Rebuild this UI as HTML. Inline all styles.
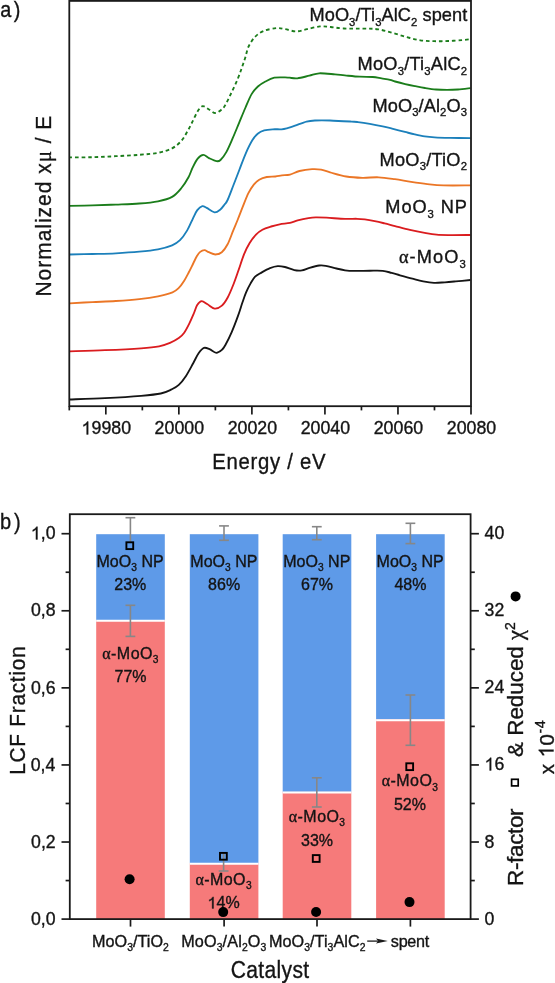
<!DOCTYPE html>
<html><head><meta charset="utf-8"><style>
html,body{margin:0;padding:0;background:#fff;}
body{width:555px;height:983px;overflow:hidden;}
svg{display:block;will-change:transform;}
text{font-family:"Liberation Sans", sans-serif;fill:#141414;stroke:#141414;stroke-width:0.35px;}
.one path{fill:#141414;stroke:#141414;stroke-width:0.35px;vector-effect:non-scaling-stroke;}
</style></head><body>
<svg width="555" height="983" viewBox="0 0 555 983">
<rect x="0" y="0" width="555" height="983" fill="#fff"/>
<path d="M69.50,399.50 C75.42,399.27 93.07,398.72 105.00,398.10 C116.93,397.48 131.80,396.57 141.10,395.80 C150.40,395.03 155.72,394.57 160.80,393.50 C165.88,392.43 168.60,390.83 171.60,389.40 C174.60,387.97 176.40,387.15 178.80,384.90 C181.20,382.65 183.60,379.52 186.00,375.90 C188.40,372.28 191.10,366.97 193.20,363.20 C195.30,359.43 196.80,355.85 198.60,353.30 C200.40,350.75 202.18,348.58 204.00,347.90 C205.82,347.22 207.45,348.38 209.50,349.20 C211.55,350.02 214.22,352.72 216.30,352.80 C218.38,352.88 220.48,351.00 222.00,349.70 C223.52,348.40 223.78,347.93 225.40,345.00 C227.02,342.07 229.60,336.95 231.70,332.10 C233.80,327.25 236.20,320.87 238.00,315.90 C239.80,310.93 241.15,306.22 242.50,302.30 C243.85,298.38 244.75,295.55 246.10,292.40 C247.45,289.25 249.10,286.02 250.60,283.40 C252.10,280.78 253.30,278.50 255.10,276.70 C256.90,274.90 258.92,274.03 261.40,272.60 C263.88,271.17 267.28,269.18 270.00,268.10 C272.72,267.02 275.22,266.28 277.70,266.10 C280.18,265.92 282.13,266.33 284.90,267.00 C287.67,267.67 291.47,269.53 294.30,270.10 C297.13,270.67 299.37,270.78 301.90,270.40 C304.43,270.02 306.62,268.62 309.50,267.80 C312.38,266.98 316.50,265.83 319.20,265.50 C321.90,265.17 322.82,265.30 325.70,265.80 C328.58,266.30 333.28,267.75 336.50,268.50 C339.72,269.25 341.93,269.90 345.00,270.30 C348.07,270.70 350.77,270.83 354.90,270.90 C359.03,270.97 365.17,270.72 369.80,270.70 C374.43,270.68 379.07,270.43 382.70,270.80 C386.33,271.17 388.72,272.15 391.60,272.90 C394.48,273.65 396.53,274.33 400.00,275.30 C403.47,276.27 408.53,277.68 412.40,278.70 C416.27,279.72 419.60,280.70 423.20,281.40 C426.80,282.10 430.38,282.75 434.00,282.90 C437.62,283.05 441.28,282.55 444.90,282.30 C448.52,282.05 451.43,281.78 455.70,281.40 C459.97,281.02 468.03,280.23 470.50,280.00" fill="none" stroke="#151515" stroke-width="1.85"/>
<path d="M69.50,351.30 C75.42,351.12 93.07,350.70 105.00,350.20 C116.93,349.70 132.08,348.95 141.10,348.30 C150.12,347.65 154.28,347.20 159.10,346.30 C163.92,345.40 166.72,344.27 170.00,342.90 C173.28,341.53 176.43,339.80 178.80,338.10 C181.17,336.40 182.42,335.20 184.20,332.70 C185.98,330.20 187.90,326.30 189.50,323.10 C191.10,319.90 192.52,316.52 193.80,313.50 C195.08,310.48 195.88,307.07 197.20,305.00 C198.52,302.93 199.98,301.22 201.70,301.10 C203.42,300.98 205.33,303.05 207.50,304.30 C209.67,305.55 212.30,308.38 214.70,308.60 C217.10,308.82 219.73,307.45 221.90,305.60 C224.07,303.75 225.78,301.02 227.70,297.50 C229.62,293.98 231.58,289.08 233.40,284.50 C235.22,279.92 236.82,275.07 238.60,270.00 C240.38,264.93 242.28,258.57 244.10,254.10 C245.92,249.63 247.52,246.45 249.50,243.20 C251.48,239.95 253.85,236.85 256.00,234.60 C258.15,232.35 259.88,231.05 262.40,229.70 C264.92,228.35 268.22,227.40 271.10,226.50 C273.98,225.60 276.55,224.90 279.70,224.30 C282.85,223.70 287.00,223.55 290.00,222.90 C293.00,222.25 294.62,221.20 297.70,220.40 C300.78,219.60 305.50,218.60 308.50,218.10 C311.50,217.60 312.70,217.47 315.70,217.40 C318.70,217.33 321.62,217.45 326.50,217.70 C331.38,217.95 339.93,218.72 345.00,218.90 C350.07,219.08 353.60,218.72 356.90,218.80 C360.20,218.88 361.83,219.02 364.80,219.40 C367.77,219.78 371.40,220.43 374.70,221.10 C378.00,221.77 381.22,222.57 384.60,223.40 C387.98,224.23 390.78,225.02 395.00,226.10 C399.22,227.18 404.95,228.77 409.90,229.90 C414.85,231.03 420.25,232.10 424.70,232.90 C429.15,233.70 432.38,234.33 436.60,234.70 C440.82,235.07 444.35,235.05 450.00,235.10 C455.65,235.15 467.08,235.02 470.50,235.00" fill="none" stroke="#da1c1f" stroke-width="1.85"/>
<path d="M69.50,303.30 C73.32,303.10 84.68,302.48 92.40,302.10 C100.12,301.72 107.98,301.50 115.80,301.00 C123.62,300.50 132.27,299.88 139.30,299.10 C146.33,298.32 152.47,297.43 158.00,296.30 C163.53,295.17 169.03,293.70 172.50,292.30 C175.97,290.90 176.85,289.83 178.80,287.90 C180.75,285.97 182.55,283.27 184.20,280.70 C185.85,278.13 187.20,275.37 188.70,272.50 C190.20,269.63 191.85,266.20 193.20,263.50 C194.55,260.80 195.63,258.23 196.80,256.30 C197.97,254.37 198.92,252.92 200.20,251.90 C201.48,250.88 203.07,250.15 204.50,250.20 C205.93,250.25 207.00,251.48 208.80,252.20 C210.60,252.92 213.13,254.50 215.30,254.50 C217.47,254.50 219.75,253.90 221.80,252.20 C223.85,250.50 225.68,247.95 227.60,244.30 C229.52,240.65 231.63,234.35 233.30,230.30 C234.97,226.25 235.98,224.02 237.60,220.00 C239.22,215.98 241.20,210.67 243.00,206.20 C244.80,201.73 246.60,196.80 248.40,193.20 C250.20,189.60 252.00,186.85 253.80,184.60 C255.60,182.35 257.03,180.97 259.20,179.70 C261.37,178.43 264.10,177.53 266.80,177.00 C269.50,176.47 272.88,176.77 275.40,176.50 C277.92,176.23 279.47,175.72 281.90,175.40 C284.33,175.08 287.07,175.33 290.00,174.60 C292.93,173.87 295.82,171.90 299.50,171.00 C303.18,170.10 308.50,169.42 312.10,169.20 C315.70,168.98 318.10,169.17 321.10,169.70 C324.10,170.23 325.92,171.27 330.10,172.40 C334.28,173.53 340.82,175.60 346.20,176.50 C351.58,177.40 357.00,177.67 362.40,177.80 C367.80,177.93 373.18,177.07 378.60,177.30 C384.02,177.53 389.48,178.43 394.90,179.20 C400.32,179.97 405.70,181.08 411.10,181.90 C416.50,182.72 421.90,183.52 427.30,184.10 C432.70,184.68 436.30,185.18 443.50,185.40 C450.70,185.62 466.00,185.40 470.50,185.40" fill="none" stroke="#eb7626" stroke-width="1.85"/>
<path d="M69.50,254.50 C73.32,254.42 84.68,254.20 92.40,254.00 C100.12,253.80 107.98,253.68 115.80,253.30 C123.62,252.92 132.27,252.37 139.30,251.70 C146.33,251.03 152.53,250.37 158.00,249.30 C163.47,248.23 168.43,246.82 172.10,245.30 C175.77,243.78 177.48,242.68 180.00,240.20 C182.52,237.72 185.03,234.05 187.20,230.40 C189.37,226.75 191.32,221.68 193.00,218.30 C194.68,214.92 195.75,212.13 197.30,210.10 C198.85,208.07 200.73,206.47 202.30,206.10 C203.87,205.73 204.65,206.87 206.70,207.90 C208.75,208.93 212.32,212.05 214.60,212.30 C216.88,212.55 218.72,210.73 220.40,209.40 C222.08,208.07 223.50,205.87 224.70,204.30 C225.90,202.73 226.13,203.22 227.60,200.00 C229.07,196.78 231.55,190.00 233.50,185.00 C235.45,180.00 237.25,175.28 239.30,170.00 C241.35,164.72 243.63,158.25 245.80,153.30 C247.97,148.35 250.32,143.57 252.30,140.30 C254.28,137.03 255.72,135.35 257.70,133.70 C259.68,132.05 261.68,131.13 264.20,130.40 C266.72,129.67 269.92,129.48 272.80,129.30 C275.68,129.12 279.15,129.47 281.50,129.30 C283.85,129.13 284.65,128.90 286.90,128.30 C289.15,127.70 291.73,126.82 295.00,125.70 C298.27,124.58 303.15,122.47 306.50,121.60 C309.85,120.73 311.18,120.68 315.10,120.50 C319.02,120.32 323.92,120.32 330.00,120.50 C336.08,120.68 346.95,121.33 351.60,121.60 C356.25,121.87 354.87,121.72 357.90,122.10 C360.93,122.48 365.67,123.18 369.80,123.90 C373.93,124.62 379.00,125.62 382.70,126.40 C386.40,127.18 388.30,127.68 392.00,128.60 C395.70,129.52 401.10,130.93 404.90,131.90 C408.70,132.87 411.50,133.65 414.80,134.40 C418.10,135.15 421.40,135.90 424.70,136.40 C428.00,136.90 430.38,137.15 434.60,137.40 C438.82,137.65 444.02,137.78 450.00,137.90 C455.98,138.02 467.08,138.07 470.50,138.10" fill="none" stroke="#1c80bb" stroke-width="1.85"/>
<path d="M69.50,205.80 C73.32,205.73 84.68,205.60 92.40,205.40 C100.12,205.20 107.98,204.92 115.80,204.60 C123.62,204.28 132.27,204.05 139.30,203.50 C146.33,202.95 152.53,202.41 158.00,201.30 C163.47,200.19 168.20,199.08 172.10,196.86 C176.00,194.64 178.67,191.28 181.40,188.00 C184.13,184.72 186.63,180.60 188.50,177.20 C190.37,173.80 191.07,170.70 192.60,167.60 C194.13,164.50 195.92,160.72 197.70,158.60 C199.48,156.48 201.42,154.98 203.30,154.90 C205.18,154.82 206.78,157.05 209.00,158.10 C211.22,159.15 214.68,160.88 216.60,161.20 C218.52,161.52 218.88,161.52 220.50,160.00 C222.12,158.48 224.27,155.73 226.30,152.10 C228.33,148.47 230.58,143.03 232.70,138.20 C234.82,133.37 236.90,128.13 239.00,123.10 C241.10,118.07 243.20,112.83 245.30,108.00 C247.40,103.17 249.50,97.68 251.60,94.10 C253.70,90.52 255.60,88.60 257.90,86.50 C260.20,84.40 262.67,82.97 265.40,81.50 C268.13,80.03 271.03,78.38 274.30,77.70 C277.57,77.02 282.47,77.40 285.00,77.40 C287.53,77.40 287.43,77.55 289.50,77.70 C291.57,77.85 294.10,78.63 297.40,78.30 C300.70,77.97 305.67,76.53 309.30,75.70 C312.93,74.87 314.92,73.52 319.20,73.30 C323.48,73.08 330.72,74.05 335.00,74.40 C339.28,74.75 340.77,75.02 344.90,75.40 C349.03,75.78 355.17,76.43 359.80,76.70 C364.43,76.97 369.07,76.72 372.70,77.00 C376.33,77.28 378.72,77.93 381.60,78.40 C384.48,78.87 387.75,79.28 390.00,79.80 C392.25,80.32 392.57,80.78 395.10,81.50 C397.63,82.22 401.83,83.32 405.20,84.10 C408.57,84.88 412.00,85.55 415.30,86.20 C418.60,86.85 421.55,87.45 425.00,88.00 C428.45,88.55 432.33,89.18 436.00,89.50 C439.67,89.82 443.33,89.90 447.00,89.90 C450.67,89.90 454.08,89.78 458.00,89.50 C461.92,89.22 468.42,88.42 470.50,88.20" fill="none" stroke="#1b7d1b" stroke-width="1.85"/>
<path d="M69.50,157.40 C73.32,157.37 84.68,157.40 92.40,157.20 C100.12,157.00 107.98,156.60 115.80,156.20 C123.62,155.80 132.27,155.37 139.30,154.80 C146.33,154.23 152.53,153.88 158.00,152.80 C163.47,151.72 168.20,150.30 172.10,148.30 C176.00,146.30 178.82,143.68 181.40,140.80 C183.98,137.92 185.73,134.23 187.60,131.00 C189.47,127.77 190.92,124.68 192.60,121.40 C194.28,118.12 196.02,113.85 197.70,111.30 C199.38,108.75 200.82,106.40 202.70,106.10 C204.58,105.80 206.90,108.35 209.00,109.50 C211.10,110.65 213.20,113.00 215.30,113.00 C217.40,113.00 219.97,110.77 221.60,109.50 C223.23,108.23 223.47,108.18 225.10,105.40 C226.73,102.62 229.30,97.20 231.40,92.80 C233.50,88.40 235.95,83.22 237.70,79.00 C239.45,74.78 240.63,71.08 241.90,67.50 C243.17,63.92 244.18,61.00 245.30,57.50 C246.42,54.00 246.97,49.95 248.60,46.50 C250.23,43.05 252.57,39.40 255.10,36.80 C257.63,34.20 260.18,32.35 263.80,30.90 C267.42,29.45 273.20,28.38 276.80,28.10 C280.40,27.82 282.17,28.65 285.40,29.20 C288.63,29.75 292.60,31.40 296.20,31.40 C299.80,31.40 303.03,30.03 307.00,29.20 C310.97,28.37 316.03,26.77 320.00,26.40 C323.97,26.03 326.83,26.65 330.80,27.00 C334.77,27.35 338.27,28.23 343.80,28.50 C349.33,28.77 358.28,28.47 364.00,28.60 C369.72,28.73 373.40,28.60 378.10,29.30 C382.80,30.00 387.52,31.52 392.20,32.80 C396.88,34.08 401.52,35.75 406.20,37.00 C410.88,38.25 415.62,39.60 420.30,40.30 C424.98,41.00 429.62,41.08 434.30,41.20 C438.98,41.32 443.72,41.18 448.40,41.00 C453.08,40.82 458.70,40.40 462.40,40.10 C466.10,39.80 469.23,39.35 470.60,39.20" fill="none" stroke="#1b7d1b" stroke-width="1.85" stroke-dasharray="3.6 2.9" stroke-dashoffset="0.9"/>
<rect x="69.30" y="0.90" width="401.70" height="405.30" fill="none" stroke="#1a1a1a" stroke-width="1.8"/>
<line x1="69.30" y1="406.20" x2="69.30" y2="410.40" stroke="#1a1a1a" stroke-width="1.7"/>
<line x1="105.82" y1="406.20" x2="105.82" y2="414.50" stroke="#1a1a1a" stroke-width="1.7"/>
<g transform="translate(106.32,434.40)"><text><tspan x="-14.85" y="0.00" font-size="17.8">9</tspan><tspan x="-4.95" y="0.00" font-size="17.8">9</tspan><tspan x="4.95" y="0.00" font-size="17.8">8</tspan><tspan x="14.85" y="0.00" font-size="17.8">0</tspan></text><g class="one"><path transform="translate(-24.749,0.000) scale(17.8000)" d="M0.373,0 H0.285 V-0.560 C0.250,-0.527 0.205,-0.497 0.160,-0.472 C0.140,-0.461 0.120,-0.455 0.105,-0.450 V-0.537 C0.170,-0.565 0.225,-0.600 0.262,-0.640 C0.285,-0.665 0.302,-0.692 0.313,-0.719 H0.373 Z"/></g></g>
<line x1="142.34" y1="406.20" x2="142.34" y2="410.40" stroke="#1a1a1a" stroke-width="1.7"/>
<line x1="178.85" y1="406.20" x2="178.85" y2="414.50" stroke="#1a1a1a" stroke-width="1.7"/>
<g transform="translate(179.35,434.40)"><text><tspan x="-24.75" y="0.00" font-size="17.8">2</tspan><tspan x="-14.85" y="0.00" font-size="17.8">0</tspan><tspan x="-4.95" y="0.00" font-size="17.8">0</tspan><tspan x="4.95" y="0.00" font-size="17.8">0</tspan><tspan x="14.85" y="0.00" font-size="17.8">0</tspan></text><g class="one"></g></g>
<line x1="215.37" y1="406.20" x2="215.37" y2="410.40" stroke="#1a1a1a" stroke-width="1.7"/>
<line x1="251.89" y1="406.20" x2="251.89" y2="414.50" stroke="#1a1a1a" stroke-width="1.7"/>
<g transform="translate(252.39,434.40)"><text><tspan x="-24.75" y="0.00" font-size="17.8">2</tspan><tspan x="-14.85" y="0.00" font-size="17.8">0</tspan><tspan x="-4.95" y="0.00" font-size="17.8">0</tspan><tspan x="4.95" y="0.00" font-size="17.8">2</tspan><tspan x="14.85" y="0.00" font-size="17.8">0</tspan></text><g class="one"></g></g>
<line x1="288.41" y1="406.20" x2="288.41" y2="410.40" stroke="#1a1a1a" stroke-width="1.7"/>
<line x1="324.93" y1="406.20" x2="324.93" y2="414.50" stroke="#1a1a1a" stroke-width="1.7"/>
<g transform="translate(325.43,434.40)"><text><tspan x="-24.75" y="0.00" font-size="17.8">2</tspan><tspan x="-14.85" y="0.00" font-size="17.8">0</tspan><tspan x="-4.95" y="0.00" font-size="17.8">0</tspan><tspan x="4.95" y="0.00" font-size="17.8">4</tspan><tspan x="14.85" y="0.00" font-size="17.8">0</tspan></text><g class="one"></g></g>
<line x1="361.45" y1="406.20" x2="361.45" y2="410.40" stroke="#1a1a1a" stroke-width="1.7"/>
<line x1="397.96" y1="406.20" x2="397.96" y2="414.50" stroke="#1a1a1a" stroke-width="1.7"/>
<g transform="translate(398.46,434.40)"><text><tspan x="-24.75" y="0.00" font-size="17.8">2</tspan><tspan x="-14.85" y="0.00" font-size="17.8">0</tspan><tspan x="-4.95" y="0.00" font-size="17.8">0</tspan><tspan x="4.95" y="0.00" font-size="17.8">6</tspan><tspan x="14.85" y="0.00" font-size="17.8">0</tspan></text><g class="one"></g></g>
<line x1="434.48" y1="406.20" x2="434.48" y2="410.40" stroke="#1a1a1a" stroke-width="1.7"/>
<line x1="471.00" y1="406.20" x2="471.00" y2="414.50" stroke="#1a1a1a" stroke-width="1.7"/>
<g transform="translate(471.50,434.40)"><text><tspan x="-24.75" y="0.00" font-size="17.8">2</tspan><tspan x="-14.85" y="0.00" font-size="17.8">0</tspan><tspan x="-4.95" y="0.00" font-size="17.8">0</tspan><tspan x="4.95" y="0.00" font-size="17.8">8</tspan><tspan x="14.85" y="0.00" font-size="17.8">0</tspan></text><g class="one"></g></g>
<text transform="translate(213.90,468.50) scale(0.9400,1)" x="-1.77" y="0" textLength="120.48" lengthAdjust="spacing"><tspan font-size="21.6">Energy / eV</tspan></text>
<text transform="translate(51.25,294.80) rotate(-90) scale(0.9300,1)" x="-1.85" y="0" textLength="194.44" lengthAdjust="spacing"><tspan font-size="22.6">Normalized x</tspan><tspan font-size="22.6" font-family="Liberation Serif">μ</tspan><tspan font-size="22.6"> / E</tspan></text>
<text transform="translate(1.10,17.40) scale(0.9200,1)" x="-0.92" y="0" textLength="21.82" lengthAdjust="spacing"><tspan font-size="21.6">a)</tspan></text>
<text transform="translate(311.00,21.40)" x="-1.49" y="0" textLength="157.73" lengthAdjust="spacing"><tspan font-size="18.2">MoO</tspan><tspan font-size="11.3" dy="4.5">3</tspan><tspan font-size="18.2" dy="-4.5">/Ti</tspan><tspan font-size="11.3" dy="4.5">3</tspan><tspan font-size="18.2" dy="-4.5">AlC</tspan><tspan font-size="11.3" dy="4.5">2</tspan><tspan font-size="18.2" dy="-4.5"> spent</tspan></text>
<text transform="translate(359.10,70.10)" x="-1.49" y="0" textLength="109.46" lengthAdjust="spacing"><tspan font-size="18.2">MoO</tspan><tspan font-size="11.3" dy="4.5">3</tspan><tspan font-size="18.2" dy="-4.5">/Ti</tspan><tspan font-size="11.3" dy="4.5">3</tspan><tspan font-size="18.2" dy="-4.5">AlC</tspan><tspan font-size="11.3" dy="4.5">2</tspan></text>
<text transform="translate(374.00,111.80)" x="-1.49" y="0" textLength="94.49" lengthAdjust="spacing"><tspan font-size="18.2">MoO</tspan><tspan font-size="11.3" dy="4.5">3</tspan><tspan font-size="18.2" dy="-4.5">/Al</tspan><tspan font-size="11.3" dy="4.5">2</tspan><tspan font-size="18.2" dy="-4.5">O</tspan><tspan font-size="11.3" dy="4.5">3</tspan></text>
<text transform="translate(381.10,165.50)" x="-1.49" y="0" textLength="87.36" lengthAdjust="spacing"><tspan font-size="18.2">MoO</tspan><tspan font-size="11.3" dy="4.5">3</tspan><tspan font-size="18.2" dy="-4.5">/TiO</tspan><tspan font-size="11.3" dy="4.5">2</tspan></text>
<text transform="translate(386.80,213.00)" x="-1.49" y="0" textLength="81.55" lengthAdjust="spacing"><tspan font-size="18.2">MoO</tspan><tspan font-size="11.3" dy="4.5">3</tspan><tspan font-size="18.2" dy="-4.5"> NP</tspan></text>
<text transform="translate(399.70,263.20)" x="-0.69" y="0" textLength="66.79" lengthAdjust="spacing"><tspan font-size="18.2" font-family="Liberation Serif">α</tspan><tspan font-size="18.2">-MoO</tspan><tspan font-size="11.3" dy="4.5">3</tspan></text>
<rect x="96.20" y="534.20" width="68.60" height="85.83" fill="#5e9ae8"/>
<rect x="96.20" y="620.03" width="68.60" height="299.07" fill="#f67a7a"/>
<line x1="96.20" y1="620.73" x2="164.80" y2="620.73" stroke="#fff" stroke-width="2"/>
<rect x="189.80" y="534.20" width="68.60" height="328.90" fill="#5e9ae8"/>
<rect x="189.80" y="863.10" width="68.60" height="56.00" fill="#f67a7a"/>
<line x1="189.80" y1="863.80" x2="258.40" y2="863.80" stroke="#fff" stroke-width="2"/>
<rect x="282.70" y="534.20" width="68.60" height="257.72" fill="#5e9ae8"/>
<rect x="282.70" y="791.92" width="68.60" height="127.18" fill="#f67a7a"/>
<line x1="282.70" y1="792.62" x2="351.30" y2="792.62" stroke="#fff" stroke-width="2"/>
<rect x="376.10" y="534.20" width="68.60" height="185.26" fill="#5e9ae8"/>
<rect x="376.10" y="719.46" width="68.60" height="199.64" fill="#f67a7a"/>
<line x1="376.10" y1="720.16" x2="444.70" y2="720.16" stroke="#fff" stroke-width="2"/>
<line x1="130.40" y1="517.70" x2="130.40" y2="541.50" stroke="#878787" stroke-width="1.6"/>
<line x1="125.50" y1="517.70" x2="135.30" y2="517.70" stroke="#878787" stroke-width="1.6"/>
<line x1="130.40" y1="605.30" x2="130.40" y2="636.40" stroke="#878787" stroke-width="1.6"/>
<line x1="125.50" y1="605.30" x2="135.30" y2="605.30" stroke="#878787" stroke-width="1.6"/>
<line x1="125.50" y1="636.40" x2="135.30" y2="636.40" stroke="#878787" stroke-width="1.6"/>
<line x1="224.00" y1="525.90" x2="224.00" y2="540.30" stroke="#878787" stroke-width="1.6"/>
<line x1="219.10" y1="525.90" x2="228.90" y2="525.90" stroke="#878787" stroke-width="1.6"/>
<line x1="219.10" y1="540.30" x2="228.90" y2="540.30" stroke="#878787" stroke-width="1.6"/>
<line x1="223.60" y1="853.00" x2="223.60" y2="871.00" stroke="#878787" stroke-width="1.6"/>
<line x1="218.70" y1="871.00" x2="228.50" y2="871.00" stroke="#878787" stroke-width="1.6"/>
<line x1="316.80" y1="526.70" x2="316.80" y2="539.70" stroke="#878787" stroke-width="1.6"/>
<line x1="311.90" y1="526.70" x2="321.70" y2="526.70" stroke="#878787" stroke-width="1.6"/>
<line x1="311.90" y1="539.70" x2="321.70" y2="539.70" stroke="#878787" stroke-width="1.6"/>
<line x1="316.80" y1="777.80" x2="316.80" y2="807.00" stroke="#878787" stroke-width="1.6"/>
<line x1="311.90" y1="777.80" x2="321.70" y2="777.80" stroke="#878787" stroke-width="1.6"/>
<line x1="311.90" y1="807.00" x2="321.70" y2="807.00" stroke="#878787" stroke-width="1.6"/>
<line x1="410.40" y1="523.30" x2="410.40" y2="543.60" stroke="#878787" stroke-width="1.6"/>
<line x1="405.50" y1="523.30" x2="415.30" y2="523.30" stroke="#878787" stroke-width="1.6"/>
<line x1="405.50" y1="543.60" x2="415.30" y2="543.60" stroke="#878787" stroke-width="1.6"/>
<line x1="410.40" y1="695.00" x2="410.40" y2="745.30" stroke="#878787" stroke-width="1.6"/>
<line x1="405.50" y1="695.00" x2="415.30" y2="695.00" stroke="#878787" stroke-width="1.6"/>
<line x1="405.50" y1="745.30" x2="415.30" y2="745.30" stroke="#878787" stroke-width="1.6"/>
<text transform="translate(97.80,566.60)" x="-1.31" y="0" textLength="67.16" lengthAdjust="spacing"><tspan font-size="16">MoO</tspan><tspan font-size="10.2" dy="4.4">3</tspan><tspan font-size="16" dy="-4.4"> NP</tspan></text>
<g transform="translate(130.30,589.70)"><text><tspan x="-16.01" y="0.00" font-size="16">2</tspan><tspan x="-7.11" y="0.00" font-size="16">3</tspan><tspan x="1.79" y="0.00" font-size="16">%</tspan></text><g class="one"></g></g>
<text transform="translate(191.60,566.60)" x="-1.31" y="0" textLength="67.16" lengthAdjust="spacing"><tspan font-size="16">MoO</tspan><tspan font-size="10.2" dy="4.4">3</tspan><tspan font-size="16" dy="-4.4"> NP</tspan></text>
<g transform="translate(224.10,589.70)"><text><tspan x="-16.01" y="0.00" font-size="16">8</tspan><tspan x="-7.11" y="0.00" font-size="16">6</tspan><tspan x="1.79" y="0.00" font-size="16">%</tspan></text><g class="one"></g></g>
<text transform="translate(284.50,566.60)" x="-1.31" y="0" textLength="67.16" lengthAdjust="spacing"><tspan font-size="16">MoO</tspan><tspan font-size="10.2" dy="4.4">3</tspan><tspan font-size="16" dy="-4.4"> NP</tspan></text>
<g transform="translate(317.00,589.70)"><text><tspan x="-16.01" y="0.00" font-size="16">6</tspan><tspan x="-7.11" y="0.00" font-size="16">7</tspan><tspan x="1.79" y="0.00" font-size="16">%</tspan></text><g class="one"></g></g>
<text transform="translate(377.90,566.60)" x="-1.31" y="0" textLength="67.16" lengthAdjust="spacing"><tspan font-size="16">MoO</tspan><tspan font-size="10.2" dy="4.4">3</tspan><tspan font-size="16" dy="-4.4"> NP</tspan></text>
<g transform="translate(410.40,589.70)"><text><tspan x="-16.01" y="0.00" font-size="16">4</tspan><tspan x="-7.11" y="0.00" font-size="16">8</tspan><tspan x="1.79" y="0.00" font-size="16">%</tspan></text><g class="one"></g></g>
<text transform="translate(102.90,658.50)" x="-0.61" y="0" textLength="56.26" lengthAdjust="spacing"><tspan font-size="16" font-family="Liberation Serif">α</tspan><tspan font-size="16">-MoO</tspan><tspan font-size="10.2" dy="4.4">3</tspan></text>
<g transform="translate(130.50,682.20)"><text><tspan x="-16.01" y="0.00" font-size="16">7</tspan><tspan x="-7.11" y="0.00" font-size="16">7</tspan><tspan x="1.79" y="0.00" font-size="16">%</tspan></text><g class="one"></g></g>
<text transform="translate(196.00,884.70)" x="-0.61" y="0" textLength="56.26" lengthAdjust="spacing"><tspan font-size="16" font-family="Liberation Serif">α</tspan><tspan font-size="16">-MoO</tspan><tspan font-size="10.2" dy="4.4">3</tspan></text>
<g transform="translate(223.60,908.40)"><text><tspan x="-7.11" y="0.00" font-size="16">4</tspan><tspan x="1.79" y="0.00" font-size="16">%</tspan></text><g class="one"><path transform="translate(-16.012,0.000) scale(16.0000)" d="M0.373,0 H0.285 V-0.560 C0.250,-0.527 0.205,-0.497 0.160,-0.472 C0.140,-0.461 0.120,-0.455 0.105,-0.450 V-0.537 C0.170,-0.565 0.225,-0.600 0.262,-0.640 C0.285,-0.665 0.302,-0.692 0.313,-0.719 H0.373 Z"/></g></g>
<text transform="translate(289.40,822.00)" x="-0.61" y="0" textLength="56.26" lengthAdjust="spacing"><tspan font-size="16" font-family="Liberation Serif">α</tspan><tspan font-size="16">-MoO</tspan><tspan font-size="10.2" dy="4.4">3</tspan></text>
<g transform="translate(317.00,845.70)"><text><tspan x="-16.01" y="0.00" font-size="16">3</tspan><tspan x="-7.11" y="0.00" font-size="16">3</tspan><tspan x="1.79" y="0.00" font-size="16">%</tspan></text><g class="one"></g></g>
<text transform="translate(382.30,786.10)" x="-0.61" y="0" textLength="56.26" lengthAdjust="spacing"><tspan font-size="16" font-family="Liberation Serif">α</tspan><tspan font-size="16">-MoO</tspan><tspan font-size="10.2" dy="4.4">3</tspan></text>
<g transform="translate(409.90,809.80)"><text><tspan x="-16.01" y="0.00" font-size="16">5</tspan><tspan x="-7.11" y="0.00" font-size="16">2</tspan><tspan x="1.79" y="0.00" font-size="16">%</tspan></text><g class="one"></g></g>
<rect x="126.40" y="542.30" width="6.8" height="6.8" fill="none" stroke="#000" stroke-width="1.9"/>
<rect x="220.00" y="852.90" width="6.8" height="6.8" fill="none" stroke="#000" stroke-width="1.9"/>
<rect x="312.80" y="855.10" width="6.8" height="6.8" fill="none" stroke="#000" stroke-width="1.9"/>
<rect x="406.30" y="763.30" width="6.8" height="6.8" fill="none" stroke="#000" stroke-width="1.9"/>
<circle cx="129.60" cy="879.20" r="5" fill="#000"/>
<circle cx="223.20" cy="912.10" r="5" fill="#000"/>
<circle cx="316.10" cy="912.00" r="5" fill="#000"/>
<circle cx="409.50" cy="902.10" r="5" fill="#000"/>
<circle cx="515.60" cy="596.40" r="5" fill="#000"/>
<rect x="69.80" y="514.20" width="400.80" height="404.90" fill="none" stroke="#1a1a1a" stroke-width="1.8"/>
<line x1="61.50" y1="919.10" x2="69.80" y2="919.10" stroke="#1a1a1a" stroke-width="1.7"/>
<g transform="translate(54.80,924.80)"><text><tspan x="-23.91" y="0.00" font-size="17.7">0</tspan><tspan x="-14.07" y="0.00" font-size="17.7">,</tspan><tspan x="-9.15" y="0.00" font-size="17.7">0</tspan></text><g class="one"></g></g>
<line x1="65.60" y1="880.56" x2="69.80" y2="880.56" stroke="#1a1a1a" stroke-width="1.7"/>
<line x1="61.50" y1="842.02" x2="69.80" y2="842.02" stroke="#1a1a1a" stroke-width="1.7"/>
<g transform="translate(54.80,847.72)"><text><tspan x="-23.72" y="0.00" font-size="17.7">0</tspan><tspan x="-13.87" y="0.00" font-size="17.7">,</tspan><tspan x="-8.95" y="0.00" font-size="17.7">2</tspan></text><g class="one"></g></g>
<line x1="65.60" y1="803.48" x2="69.80" y2="803.48" stroke="#1a1a1a" stroke-width="1.7"/>
<line x1="61.50" y1="764.94" x2="69.80" y2="764.94" stroke="#1a1a1a" stroke-width="1.7"/>
<g transform="translate(54.80,770.64)"><text><tspan x="-24.09" y="0.00" font-size="17.7">0</tspan><tspan x="-14.24" y="0.00" font-size="17.7">,</tspan><tspan x="-9.33" y="0.00" font-size="17.7">4</tspan></text><g class="one"></g></g>
<line x1="65.60" y1="726.40" x2="69.80" y2="726.40" stroke="#1a1a1a" stroke-width="1.7"/>
<line x1="61.50" y1="687.86" x2="69.80" y2="687.86" stroke="#1a1a1a" stroke-width="1.7"/>
<g transform="translate(54.80,693.56)"><text><tspan x="-23.83" y="0.00" font-size="17.7">0</tspan><tspan x="-13.98" y="0.00" font-size="17.7">,</tspan><tspan x="-9.07" y="0.00" font-size="17.7">6</tspan></text><g class="one"></g></g>
<line x1="65.60" y1="649.32" x2="69.80" y2="649.32" stroke="#1a1a1a" stroke-width="1.7"/>
<line x1="61.50" y1="610.78" x2="69.80" y2="610.78" stroke="#1a1a1a" stroke-width="1.7"/>
<g transform="translate(54.80,616.48)"><text><tspan x="-23.84" y="0.00" font-size="17.7">0</tspan><tspan x="-13.99" y="0.00" font-size="17.7">,</tspan><tspan x="-9.07" y="0.00" font-size="17.7">8</tspan></text><g class="one"></g></g>
<line x1="65.60" y1="572.24" x2="69.80" y2="572.24" stroke="#1a1a1a" stroke-width="1.7"/>
<line x1="61.50" y1="533.70" x2="69.80" y2="533.70" stroke="#1a1a1a" stroke-width="1.7"/>
<g transform="translate(54.80,539.40)"><text><tspan x="-14.07" y="0.00" font-size="17.7">,</tspan><tspan x="-9.15" y="0.00" font-size="17.7">0</tspan></text><g class="one"><path transform="translate(-23.914,0.000) scale(17.7000)" d="M0.373,0 H0.285 V-0.560 C0.250,-0.527 0.205,-0.497 0.160,-0.472 C0.140,-0.461 0.120,-0.455 0.105,-0.450 V-0.537 C0.170,-0.565 0.225,-0.600 0.262,-0.640 C0.285,-0.665 0.302,-0.692 0.313,-0.719 H0.373 Z"/></g></g>
<line x1="470.60" y1="919.10" x2="478.90" y2="919.10" stroke="#1a1a1a" stroke-width="1.7"/>
<g transform="translate(484.60,924.60)"><text><tspan x="0.00" y="0.00" font-size="17.7">0</tspan></text><g class="one"></g></g>
<line x1="470.60" y1="880.56" x2="474.80" y2="880.56" stroke="#1a1a1a" stroke-width="1.7"/>
<line x1="470.60" y1="842.02" x2="478.90" y2="842.02" stroke="#1a1a1a" stroke-width="1.7"/>
<g transform="translate(484.60,847.52)"><text><tspan x="0.00" y="0.00" font-size="17.7">8</tspan></text><g class="one"></g></g>
<line x1="470.60" y1="803.48" x2="474.80" y2="803.48" stroke="#1a1a1a" stroke-width="1.7"/>
<line x1="470.60" y1="764.94" x2="478.90" y2="764.94" stroke="#1a1a1a" stroke-width="1.7"/>
<g transform="translate(484.60,770.44)"><text><tspan x="9.84" y="0.00" font-size="17.7">6</tspan></text><g class="one"><path transform="translate(0.000,0.000) scale(17.7000)" d="M0.373,0 H0.285 V-0.560 C0.250,-0.527 0.205,-0.497 0.160,-0.472 C0.140,-0.461 0.120,-0.455 0.105,-0.450 V-0.537 C0.170,-0.565 0.225,-0.600 0.262,-0.640 C0.285,-0.665 0.302,-0.692 0.313,-0.719 H0.373 Z"/></g></g>
<line x1="470.60" y1="726.40" x2="474.80" y2="726.40" stroke="#1a1a1a" stroke-width="1.7"/>
<line x1="470.60" y1="687.86" x2="478.90" y2="687.86" stroke="#1a1a1a" stroke-width="1.7"/>
<g transform="translate(484.60,693.36)"><text><tspan x="0.00" y="0.00" font-size="17.7">2</tspan><tspan x="9.84" y="0.00" font-size="17.7">4</tspan></text><g class="one"></g></g>
<line x1="470.60" y1="649.32" x2="474.80" y2="649.32" stroke="#1a1a1a" stroke-width="1.7"/>
<line x1="470.60" y1="610.78" x2="478.90" y2="610.78" stroke="#1a1a1a" stroke-width="1.7"/>
<g transform="translate(484.60,616.28)"><text><tspan x="0.00" y="0.00" font-size="17.7">3</tspan><tspan x="9.84" y="0.00" font-size="17.7">2</tspan></text><g class="one"></g></g>
<line x1="470.60" y1="572.24" x2="474.80" y2="572.24" stroke="#1a1a1a" stroke-width="1.7"/>
<line x1="470.60" y1="533.70" x2="478.90" y2="533.70" stroke="#1a1a1a" stroke-width="1.7"/>
<g transform="translate(484.60,539.20)"><text><tspan x="0.00" y="0.00" font-size="17.7">4</tspan><tspan x="9.84" y="0.00" font-size="17.7">0</tspan></text><g class="one"></g></g>
<line x1="130.50" y1="919.10" x2="130.50" y2="926.60" stroke="#1a1a1a" stroke-width="1.7"/>
<line x1="224.10" y1="919.10" x2="224.10" y2="926.60" stroke="#1a1a1a" stroke-width="1.7"/>
<line x1="317.00" y1="919.10" x2="317.00" y2="926.60" stroke="#1a1a1a" stroke-width="1.7"/>
<line x1="410.40" y1="919.10" x2="410.40" y2="926.60" stroke="#1a1a1a" stroke-width="1.7"/>
<text transform="translate(93.40,946.60)" x="-1.33" y="0" textLength="76.75" lengthAdjust="spacing"><tspan font-size="16.2">MoO</tspan><tspan font-size="10.4" dy="4.6">3</tspan><tspan font-size="16.2" dy="-4.6">/TiO</tspan><tspan font-size="10.4" dy="4.6">2</tspan></text>
<text transform="translate(182.50,946.60)" x="-1.33" y="0" textLength="85.19" lengthAdjust="spacing"><tspan font-size="16.2">MoO</tspan><tspan font-size="10.4" dy="4.6">3</tspan><tspan font-size="16.2" dy="-4.6">/Al</tspan><tspan font-size="10.4" dy="4.6">2</tspan><tspan font-size="16.2" dy="-4.6">O</tspan><tspan font-size="10.4" dy="4.6">3</tspan></text>
<text transform="translate(270.30,946.60)" x="-1.33" y="0" textLength="96.55" lengthAdjust="spacing"><tspan font-size="16.2">MoO</tspan><tspan font-size="10.4" dy="4.6">3</tspan><tspan font-size="16.2" dy="-4.6">/Ti</tspan><tspan font-size="10.4" dy="4.6">3</tspan><tspan font-size="16.2" dy="-4.6">AlC</tspan><tspan font-size="10.4" dy="4.6">2</tspan></text>
<path d="M367.2,941.1 H380" stroke="#1a1a1a" stroke-width="1.3"/>
<path d="M376,938.6 L387.8,941.1 L376,943.6 L378.2,941.1 Z" fill="#1a1a1a"/>
<text transform="translate(391.30,946.60)" x="-0.45" y="0" textLength="38.47" lengthAdjust="spacing"><tspan font-size="16.2">spent</tspan></text>
<text transform="translate(231.80,977.70) scale(0.9000,1)" x="-1.19" y="0" textLength="87.14" lengthAdjust="spacing"><tspan font-size="23.4">Catalyst</tspan></text>
<text transform="translate(1.30,529.00) scale(0.9200,1)" x="-1.41" y="0" textLength="22.54" lengthAdjust="spacing"><tspan font-size="21.8">b)</tspan></text>
<text transform="translate(25.20,773.10) rotate(-90) scale(0.9300,1)" x="-1.84" y="0" textLength="138.13" lengthAdjust="spacing"><tspan font-size="22.4">LCF Fraction</tspan></text>
<text transform="translate(523.30,884.10) rotate(-90)" x="-1.84" y="0" textLength="77.51" lengthAdjust="spacing"><tspan font-size="22.4">R-factor</tspan></text>
<rect x="511.60" y="779.30" width="6.6" height="6.6" fill="none" stroke="#000" stroke-width="1.7"/>
<text transform="translate(523.30,756.10) rotate(-90)" x="-0.79" y="0" textLength="134.59" lengthAdjust="spacing"><tspan font-size="22.4">&amp; Reduced </tspan><tspan font-size="22.4" font-family="Liberation Serif">χ</tspan><tspan font-size="14" dy="-8.5">2</tspan></text>
<g transform="translate(553.50,774.00) rotate(-90)"><text><tspan x="-0.23" y="0.00" font-size="20.5">x</tspan><tspan x="28.62" y="0.00" font-size="20.5">0</tspan><tspan x="40.52" y="-8.50" font-size="14.3">-</tspan><tspan x="45.78" y="-8.50" font-size="14.3">4</tspan></text><g class="one"><path transform="translate(16.715,0.000) scale(20.5000)" d="M0.373,0 H0.285 V-0.560 C0.250,-0.527 0.205,-0.497 0.160,-0.472 C0.140,-0.461 0.120,-0.455 0.105,-0.450 V-0.537 C0.170,-0.565 0.225,-0.600 0.262,-0.640 C0.285,-0.665 0.302,-0.692 0.313,-0.719 H0.373 Z"/></g></g>
</svg>
</body></html>
